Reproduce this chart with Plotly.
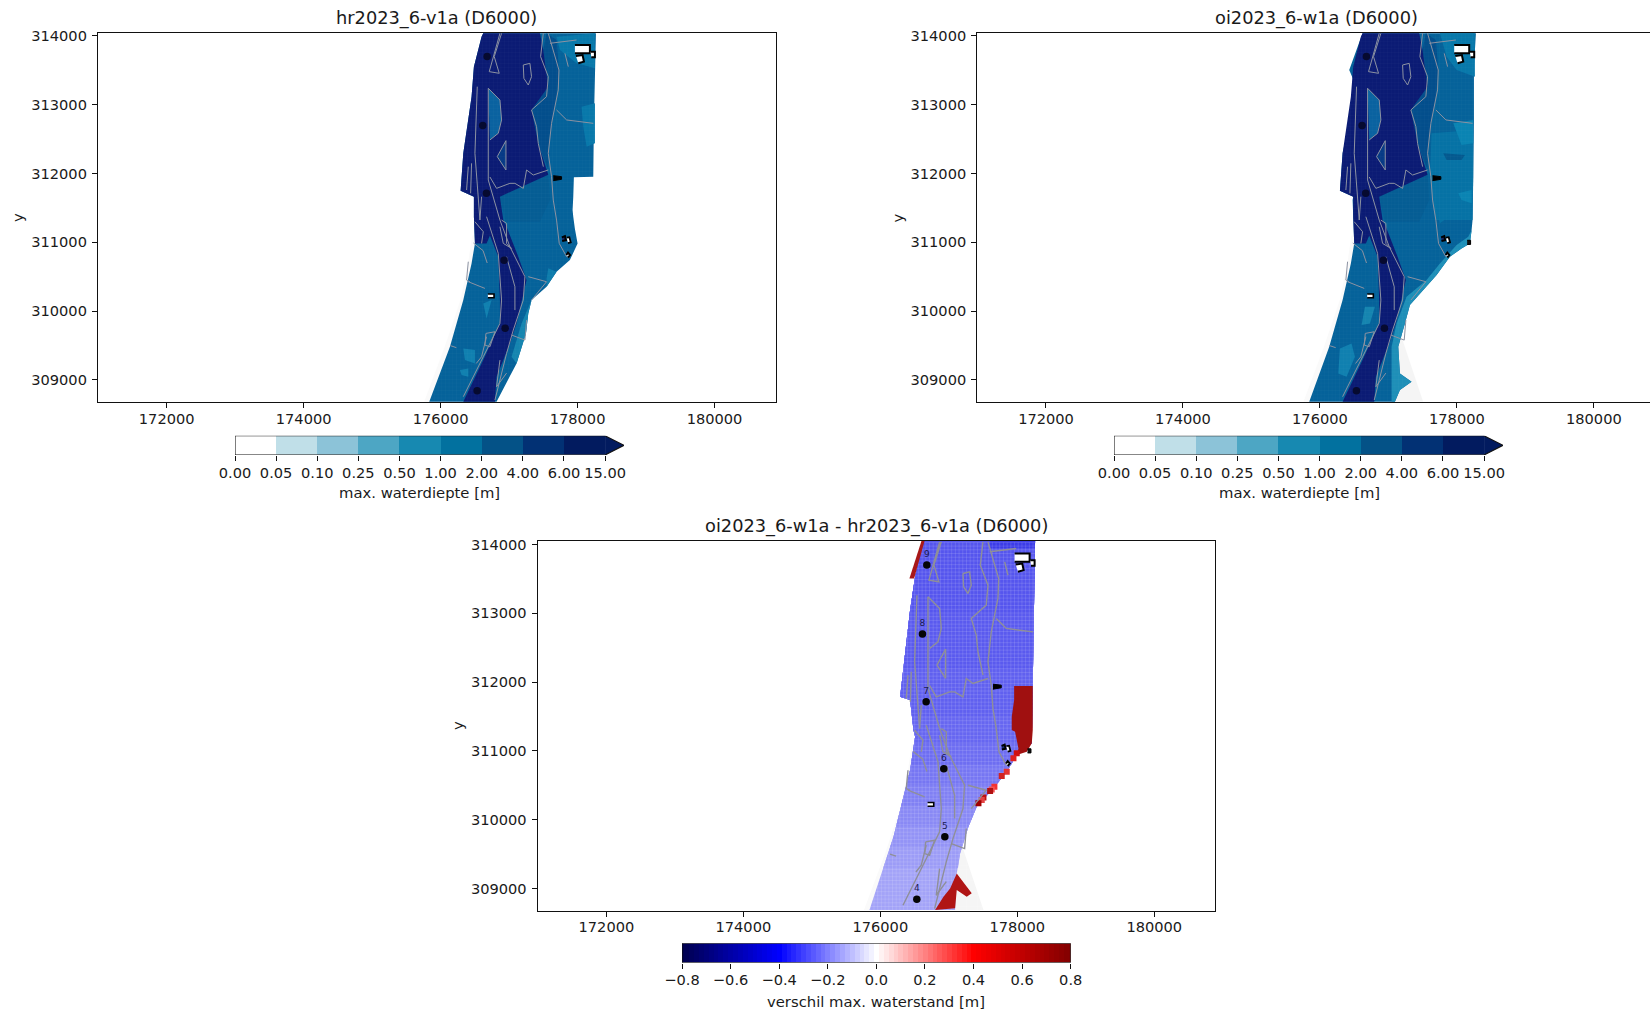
import plotly.graph_objects as go

W, H = 1660, 1012

x_ticks = [172000, 174000, 176000, 178000, 180000]
y_ticks = [309000, 310000, 311000, 312000, 313000, 314000]
x_range = [170997, 180890]
y_range = [308680, 314050]

depth_ticks = ["0.00", "0.05", "0.10", "0.25", "0.50", "1.00", "2.00", "4.00", "6.00", "15.00"]
depth_colors = ["#ffffff", "#c0dfe8", "#8cc3d8", "#4da6c4", "#1789b1", "#02719f", "#045287", "#023174", "#021b5f"]
diff_ticks = [-0.8, -0.6, -0.4, -0.2, 0.0, 0.2, 0.4, 0.6, 0.8]
diff_labels = ["−0.8", "−0.6", "−0.4", "−0.2", "0.0", "0.2", "0.4", "0.6", "0.8"]
seismic = [[0, "#00004c"], [0.25, "#0000ff"], [0.5, "#ffffff"], [0.75, "#ff0000"], [1, "#800000"]]
diff_ramp = [i / 100 for i in range(-80, 81, 2)]

# --- model outlines ---
outline_hr = [(178268,314038),(178253,313554),(178239,312779),(178229,311955),(177946,311945),(177937,311664),(177927,311470),
    (177937,311373),(177960,311200),(178000,310985),(177888,310743),(177693,310573),(177547,310355),(177328,310161),(177280,309968),
    (177246,309677),(177109,309241),(176817,308684),(175834,308684),(176136,309483),(176331,310162),(176452,310694),(176501,310985),
    (176486,311373),(176477,311615),(176486,311664),(176292,311751),(176331,312294),(176452,313118),(176486,313554),(176598,313990),(176622,314038)]
outline_oi = [(178278,314038),(178249,313554),(178249,312779),(178239,311955),(178229,311325),(178215,311179),(178190,310985),(178068,310912),
    (177898,310791),(177704,310525),(177460,310258),(177314,310089),(177241,309822),(177144,309483),(177168,309096),(177338,308975),
    (177168,308854),(177095,308684),(175844,308684),(176136,309483),(176331,310162),(176452,310694),(176501,310985),(176486,311373),
    (176477,311615),(176486,311664),(176292,311751),(176331,312294),(176487,313000),(176510,313314),(176428,313505),(176622,314038)]

deep_zone = [(176622,314038),(177450,314038),(177499,313796),(177572,313263),(177328,312924),(177426,312439),(177572,311983),(176866,311664),
    (176915,311325),(176963,311227),(177134,310791),(177255,310452),(177109,309822),(177012,309532),(176817,309047),(176793,308684),
    (176331,308684),(176623,309289),(176866,309822),(176866,310162),(176842,310791),(176720,311100),(176671,310985),(176501,310985),
    (176486,311373),(176477,311615),(176486,311664),(176292,311751),(176331,312294),(176452,313118),(176486,313554),(176598,313990)]
inner_strip = [(176696,313239),(176866,313069),(176890,312779),(176842,312585),(176720,312488)]
inner_pond = [(176827,312246),(176954,312478),(176954,312052)]
mid_band = [(177547,314038),(177693,313941),(177728,313505),(177693,313118),(177596,312585),(177572,312294),(177572,312052),(177426,312439),
    (177328,312924),(177572,313263),(177499,313796)]
lower_field = [(177572,311979),(177596,311615),(177450,311300),(176950,311300),(176866,311664)]

hr_top_right = [(177693,313990),(178253,314038),(178253,313529),(177985,313602),(177742,313796)]
hr_right_band = [(178058,312972),(178253,313021),(178253,312439),(178132,312391),(178083,312682)]
hr_edge_a = [(177328,310161),(177280,309968),(177246,309677),(177109,309241),(177036,309338),(177182,309822)]
hr_edge_b = [(177693,310573),(177547,310355),(177547,310476),(177572,310622)]
hr_patch_a = [(176331,309459),(176501,309435),(176501,309241),(176355,309289)]
hr_patch_b = [(176282,309144),(176404,309168),(176404,309047),(176306,309071)]
hr_patch_c = [(176623,310113),(176744,310162),(176671,309895)]

oi_top_right = [(177752,314038),(178263,314038),(178263,313408),(177996,313505),(177850,313699)]
oi_deep_lobe = [(177363,312827),(177630,312876),(177606,312585),(177460,312682)]
oi_right_low = [(177630,312585),(178239,312633),(178239,311955),(178229,311325),(177679,311325),(177606,311955)]
oi_right_lower = [(177679,311615),(178215,311615),(178215,311373),(177947,311421),(177752,311276)]
oi_light_a = [(177947,312730),(178239,312779),(178239,312439),(178068,312415)]
oi_light_b = [(178020,311713),(178215,311761),(178215,311567),(178068,311616)]
oi_dark_blob = [(177801,312294),(178117,312270),(178068,312197),(177850,312197)]
oi_edge = [(178215,311179),(178190,310985),(178068,310912),(177898,310791),(177704,310525),(177460,310258),(177314,310089),(177241,309822),
    (177144,309483),(177168,309096),(177338,308975),(177168,308854),(177095,308684),(177047,308684),(177047,309096),(177047,309483),
    (177119,309822),(177265,310210),(177557,310452),(177752,310694),(177996,310961),(178166,311082)]
oi_patch_a = [(176657,310065),(176803,310065),(176730,309822),(176608,309798)]
oi_patch_b = [(176292,309459),(176462,309532),(176511,309338),(176389,309047),(176268,309096)]

fringe_left = [(175760,308684),(176060,309483),(176290,310162),(176400,310694),(176460,311100),(176520,311100),(176460,310694),(176340,310162),(176150,309483),(175860,308684)]
fringe_tri = [(177165,309704),(177506,308686),(177060,308686)]

# --- difference map ---
diff_right = [(177165,309510),(177287,309898),(177408,310188),(177652,310455),(177846,310697),(177992,310939),(178212,311109),(178226,311956),(178236,312755),(178260,314064)]
diff_left = [(176630,314064),(176508,313531),(176435,313046),(176289,311786),(176435,311738),(176484,311302),(176508,311206),(176435,310721),(176192,309752)]
diff_outline = [(177092,308686),(177100,308929),(177116,309219)] + diff_right + diff_left + [(175841,308686)]
diff_bands = [
    (309300, 177135, 176043, "#9c9cf7"),
    (309600, 177190, 176142, "#9393f6"),
    (309900, 177287, 176229, "#8989f5"),
    (310200, 177420, 176304, "#8080f4"),
    (310500, 177690, 176380, "#7676f3"),
    (310800, 177910, 176447, "#6d6df2"),
    (311100, 178205, 176492, "#6666f1"),
    (311500, 178218, 176462, "#6060f0"),
    (312200, 178229, 176337, "#5a5aef"),
    (313000, 178240, 176430, "#5555ee"),
]
diff_corner = [(177603,314064),(178260,314064),(178255,313945),(177603,313945)]

red_top = [(176605,314064),(176425,313506),(176494,313506),(176650,314064)]
red_right = [(177954,311941),(178226,311941),(178226,311302),(178212,311109),(178139,310988),(177992,310939),(178017,311036),(177968,311278),(177919,311302),(177919,311495),(177954,311738)]
red_squares_x = [177992, 177944, 177846, 177773, 177666, 177627, 177603, 177506, 177481, 177433]
red_squares_y = [310964, 310891, 310697, 310634, 310479, 310440, 310416, 310324, 310285, 310237]
red_squares_c = ["#d01010", "#e02020", "#e33333", "#d22222", "#f33333", "#f55555", "#b11111", "#c01111", "#e44444", "#a00000"]
red_bottom = [(177116,309219),(177335,308929),(177262,308880),(177116,308977),(177092,308711),(176800,308686),(176922,308880),(177019,309001)]

# --- line work ---
lines = [
    [(177572,314038),(177728,313505),(177718,313215),(177620,312730),(177572,312294),(177620,311955),(177645,311615),(177693,311324),(177732,310985),(177840,310791)],
    [(177499,314038),(177460,313699),(177572,313408),(177547,313118),(177328,312924),(177401,312682),(177426,312439),(177500,312100)],
    [(177572,312052),(177353,311979),(177255,312052),(177207,311785),(177085,311858),(177012,311858),(176817,311785),(176720,311950)],
    [(176866,314038),(176710,313481),(176856,313457),(176783,313699),(176890,314038)],
    [(177207,313578),(177304,313602),(177328,313408),(177280,313287),(177216,313384),(177207,313578)],
    [(176535,313263),(176501,312294),(176574,311325)],
    [(176696,313239),(176696,311906),(176866,311325)],
    [(176696,313239),(176866,313069),(176890,312779),(176842,312585),(176720,312488)],
    [(176827,312246),(176954,312478),(176954,312052),(176827,312246)],
    [(176671,311373),(176842,310840),(176890,310162),(176866,309822),(176623,309338),(176331,308757)],
    [(176866,311324),(177012,310937),(177231,310501),(177207,310162),(177061,309725),(176963,309386),(176793,308708)],
    [(176963,310791),(177085,310355),(177085,310016)],
    [(176404,310428),(176647,310331)],
    [(176671,309629),(176598,309338),(176520,309240)],
    [(176866,309289),(176817,308902),(176963,309100)],
    [(177036,309653),(177231,309580),(177255,309871)],
    [(177280,310501),(177547,310428),(177328,310161)],
    [(177693,312924),(177840,312779),(178229,312730)],
    [(177596,313893),(177985,313941)],
    [(177815,313747),(177864,313554)],
    [(176480,310990),(176620,310880),(176680,310700)],
    [(176140,309500),(176230,309470)],
    [(176662,309677),(176793,309701),(176720,309483),(176647,309507),(176662,309677)],
    [(176890,311324),(176963,311276),(176963,310985),(177036,310912),(176915,310985),(176866,311227)],
    [(176501,311300),(176623,311155),(176598,310985)],
    [(176404,310719),(176379,310452),(176428,310428)],
    [(176404,312100),(176379,311761)],
    [(176452,312149),(176438,311713)],
    [(176598,311664),(176574,311325)],
]

# --- structures ---
bld_main = [(177961,313869),(178180,313869),(178180,313747),(177961,313747)]
bld_tilt = [(177976,313709),(178073,313723),(178093,313626),(178010,313602)]
bld_small = [(178190,313772),(178253,313772),(178253,313692),(178200,313692)]
bld_ring_a = [(177770,311073),(177815,311090),(177830,311030),(177775,311020)]
bld_ring_b = [(177840,311070),(177880,311075),(177900,311000),(177860,310990)]
bld_diamond = [(177836,310816),(177860,310850),(177890,310816),(177860,310780)]
bld_rect = [(176690,310250),(176780,310250),(176780,310195),(176690,310195)]
bld_far = [(178150,311030),(178200,311030),(178200,310970),(178150,310970)]
blob = [(177645,311969),(177766,311955),(177766,311916),(177645,311897)]

point_x = [176679, 176615, 176669, 176927, 176942, 176533]
point_y = [313700, 312698, 311714, 310741, 309753, 308843]
point_names = ["9", "8", "7", "6", "5", "4"]

mesh_x = list(range(175800, 178400, 54))
mesh_y = list(range(308684, 314050, 54))

fig = go.Figure()


def poly(axn, pts, color, line=None, lw=0, opacity=1.0):
    fig.add_trace(go.Scatter(
        x=[p[0] for p in pts], y=[p[1] for p in pts], xaxis=f"x{axn}", yaxis=f"y{axn}",
        mode="lines", fill="toself", fillcolor=color, opacity=opacity,
        line=dict(color=line or color, width=lw if line else 0),
        hoverinfo="skip", showlegend=False))


def path(axn, pts, color, lw):
    fig.add_trace(go.Scatter(
        x=[p[0] for p in pts], y=[p[1] for p in pts], xaxis=f"x{axn}", yaxis=f"y{axn}",
        mode="lines", line=dict(color=color, width=lw), hoverinfo="skip", showlegend=False))


def mesh(axn, alpha):
    xs, ys = [], []
    for v in mesh_x:
        xs += [v, v, None]
        ys += [mesh_y[0], mesh_y[-1], None]
    for v in mesh_y:
        xs += [mesh_x[0], mesh_x[-1], None]
        ys += [v, v, None]
    fig.add_trace(go.Scatter(x=xs, y=ys, xaxis=f"x{axn}", yaxis=f"y{axn}", mode="lines",
                             line=dict(color=f"rgba(255,255,255,{alpha})", width=0.7), hoverinfo="skip", showlegend=False))


def structures(axn, far):
    poly(axn, bld_main, "#ffffff", "#000000", 2)
    poly(axn, bld_tilt, "#ffffff", "#000000", 2)
    poly(axn, bld_small, "#ffffff", "#000000", 2)
    poly(axn, bld_ring_a, "#1a2a6a", "#000000", 2)
    poly(axn, bld_ring_b, "#ffffff", "#000000", 1.8)
    poly(axn, bld_diamond, "#ffffff", "#000000", 2)
    poly(axn, bld_rect, "#ffffff", "#000000", 1.6)
    poly(axn, blob, "#000000", "#000000", 1)
    if far:
        poly(axn, bld_far, "#111111", "#000000", 1)


def points(axn, show_names):
    fig.add_trace(go.Scatter(
        x=point_x, y=point_y, xaxis=f"x{axn}", yaxis=f"y{axn}",
        mode="markers+text" if show_names else "markers",
        marker=dict(color="#050505" if show_names else "#060a30", size=7.5),
        text=point_names, textposition="top center",
        textfont=dict(family="DejaVu Sans", size=9, color="#1a1a50"),
        hoverinfo="skip", showlegend=False))


def depth_panel(axn, outline, zones):
    poly(axn, fringe_left, "#fafafa")
    poly(axn, outline, "#05629a")
    for pts, color in zones:
        poly(axn, pts, color)
    poly(axn, mid_band, "#034e8c")
    poly(axn, lower_field, "#055d94")
    poly(axn, deep_zone, "#0b1b74")
    poly(axn, inner_strip, "#0a62a0")
    poly(axn, inner_pond, "#063a86")
    mesh(axn, 0.04)
    for ln in lines:
        path(axn, ln, "#8c92a2", 1.0)


# Panel 1
depth_panel(1, outline_hr, [
    (hr_top_right, "#0878aa"), (hr_right_band, "#0878aa"), (hr_edge_a, "#1585b0"), (hr_edge_b, "#0e7cac"),
    (hr_patch_a, "#1080b0"), (hr_patch_b, "#1080b0"), (hr_patch_c, "#1080b0")])
structures(1, False)
points(1, False)

# Panel 2
poly(2, fringe_tri, "#f5f5f5")
depth_panel(2, outline_oi, [
    (oi_top_right, "#0878aa"), (oi_deep_lobe, "#034e8c"), (oi_right_low, "#0672a5"), (oi_right_lower, "#0672a5"),
    (oi_light_a, "#0a84b3"), (oi_light_b, "#0a84b3"), (oi_dark_blob, "#04598f"), (oi_edge, "#1e8fb8"),
    (oi_patch_a, "#1585b0"), (oi_patch_b, "#1080b0")])
structures(2, True)
points(2, False)

# Panel 3
poly(3, fringe_left, "#fafafa")
poly(3, fringe_tri, "#f5f5f5")
poly(3, diff_outline, "#a3a3f8")
for y_cut, x_right, x_left, colour in diff_bands:
    band = [(x_right, y_cut)] + [p for p in diff_right if p[1] > y_cut] + [p for p in diff_left if p[1] > y_cut] + [(x_left, y_cut)]
    poly(3, band, colour)
poly(3, diff_corner, "#3c3ce8")
mesh(3, 0.18)
poly(3, red_top, "#a81818")
poly(3, red_right, "#a01010")
poly(3, red_bottom, "#b01515")
fig.add_trace(go.Scatter(x=red_squares_x, y=red_squares_y, xaxis="x3", yaxis="y3", mode="markers",
                         marker=dict(symbol="square", size=6, color=red_squares_c), hoverinfo="skip", showlegend=False))
for ln in lines:
    path(3, ln, "#8f8f98", 1.4)
structures(3, True)
points(3, True)

# Colour bars
for axn in (4, 5):
    fig.add_trace(go.Heatmap(
        x=[i + 0.5 for i in range(9)], y=[0.5], z=[list(range(9))], xaxis=f"x{axn}", yaxis=f"y{axn}",
        zmin=-0.5, zmax=8.5, showscale=False, hoverinfo="skip",
        colorscale=[s for i, c in enumerate(depth_colors) for s in ([i / 9, c], [(i + 1) / 9, c])]))
    fig.add_trace(go.Scatter(
        x=[9, 9.46, 9], y=[0, 0.5, 1], xaxis=f"x{axn}", yaxis=f"y{axn}", mode="lines", fill="toself",
        fillcolor=depth_colors[-1], line=dict(width=0), hoverinfo="skip", showlegend=False))
    fig.add_trace(go.Scatter(
        x=[0, 9, 9.46, 9, 0, 0], y=[0, 0, 0.5, 1, 1, 0], xaxis=f"x{axn}", yaxis=f"y{axn}", mode="lines",
        line=dict(color="#111111", width=1.1), hoverinfo="skip", showlegend=False))
fig.add_trace(go.Heatmap(
    x=diff_ramp, y=[0.5], z=[diff_ramp], xaxis="x6", yaxis="y6", zmin=-0.8, zmax=0.8,
    colorscale=seismic, showscale=False, hoverinfo="skip"))
fig.add_trace(go.Scatter(
    x=[-0.8, 0.8, 0.8, -0.8, -0.8], y=[0, 0, 1, 1, 0], xaxis="x6", yaxis="y6", mode="lines",
    line=dict(color="#111111", width=1.1), hoverinfo="skip", showlegend=False))

font = dict(family="DejaVu Sans", size=14.6, color="#1a1a1a")
layout = dict(width=W, height=H, margin=dict(l=0, r=0, t=0, b=0, autoexpand=False), paper_bgcolor="white", plot_bgcolor="white",
              showlegend=False, font=font)


def map_axes(n, x0, x1, y0, y1):
    layout[f"xaxis{n}"] = dict(domain=[x0 / W, x1 / W], range=x_range, tickvals=x_ticks, ticktext=[str(v) for v in x_ticks],
                               ticks="outside", ticklen=5, tickwidth=1.1, tickcolor="#111111", showgrid=False, zeroline=False,
                               showline=True, linecolor="#111111", linewidth=1.3, mirror=True, anchor=f"y{n}", tickfont=font,
                               ticklabelstandoff=-2)
    layout[f"yaxis{n}"] = dict(domain=[1 - y1 / H, 1 - y0 / H], range=y_range, tickvals=y_ticks, ticktext=[str(v) for v in y_ticks],
                               ticks="outside", ticklen=5, tickwidth=1.1, tickcolor="#111111", showgrid=False, zeroline=False,
                               showline=True, linecolor="#111111", linewidth=1.3, mirror=True, anchor=f"x{n}", tickfont=font,
                               ticklabelstandoff=2)


def bar_axes(n, x0, x1, y0, y1, rng, vals, texts):
    layout[f"xaxis{n}"] = dict(domain=[x0 / W, x1 / W], range=rng, tickvals=vals, ticktext=texts, ticks="outside", ticklen=5,
                               tickwidth=1.1, tickcolor="#111111", showgrid=False, zeroline=False, showline=False,
                               anchor=f"y{n}", tickfont=font, ticklabelstandoff=-1)
    layout[f"yaxis{n}"] = dict(domain=[1 - y1 / H, 1 - y0 / H], range=[0, 1], visible=False, anchor=f"x{n}")


map_axes(1, 98, 775.5, 32.5, 402)
map_axes(2, 977.3, 1654.8, 32.5, 402)
map_axes(3, 537.7, 1215.2, 541, 910.5)
bar_axes(4, 235, 624, 435.7, 455, [0, 9.46], list(range(10)), depth_ticks)
bar_axes(5, 1114, 1503, 435.7, 455, [0, 9.46], list(range(10)), depth_ticks)
bar_axes(6, 682, 1070.7, 943.3, 962.7, [-0.8, 0.8], diff_ticks, diff_labels)


def label(text, px, py, size=14.8, angle=0):
    return dict(text=text, x=px / W, y=1 - py / H, xref="paper", yref="paper", xanchor="center", yanchor="middle",
                showarrow=False, textangle=angle, font=dict(family="DejaVu Sans", size=size, color="#1a1a1a"))


layout["annotations"] = [
    label("hr2023_6-v1a (D6000)", 436.2, 18.5, 17.8),
    label("oi2023_6-w1a (D6000)", 1316, 18.5, 17.8),
    label("oi2023_6-w1a - hr2023_6-v1a (D6000)", 876.5, 526, 17.8),
    label("y", 18, 218, 14.8, -90),
    label("y", 897.5, 218, 14.8, -90),
    label("y", 457, 726, 14.8, -90),
    label("max. waterdiepte [m]", 420, 493),
    label("max. waterdiepte [m]", 1299, 493),
    label("verschil max. waterstand [m]", 876.5, 1001),
]

fig.update_layout(**layout)
fig.write_html("out.html", config={"displayModeBar": False},
               post_script="document.body.style.margin='0';document.body.style.overflow='hidden';document.documentElement.style.overflow='hidden';")
